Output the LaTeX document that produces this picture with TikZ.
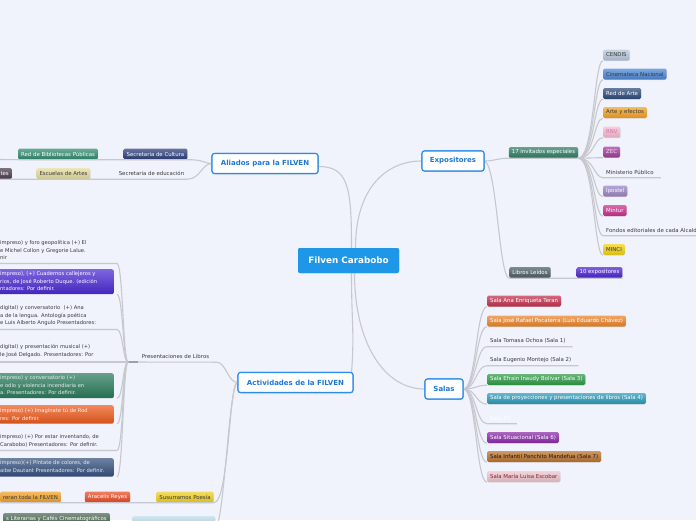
\documentclass[tikz,border=0pt]{standalone}
\usepackage{fontspec}
\setmainfont{DejaVu Sans}
\usetikzlibrary{shadows}
\definecolor{bg}{HTML}{F1F3FC}
\definecolor{linec}{HTML}{C6C8CE}
\definecolor{hubline}{HTML}{2C8CEA}
\definecolor{hubtext}{HTML}{1C78D8}
\definecolor{corec}{HTML}{1F97E8}
\definecolor{ink}{HTML}{3A3A3A}
\definecolor{cNavy}{HTML}{2C3E7C}
\definecolor{cGreenA}{HTML}{2E8A6E}
\definecolor{cKhaki}{HTML}{E4DC9C}
\definecolor{cPlum}{HTML}{4A3C4C}
\definecolor{cInv}{HTML}{2E7C62}
\definecolor{cCendis}{HTML}{B6C6DA}
\definecolor{cCine}{HTML}{4A86D6}
\definecolor{cRedArte}{HTML}{2C4A7A}
\definecolor{cOrange}{HTML}{F2A024}
\definecolor{cRnv}{HTML}{F4BACE}
\definecolor{cZec}{HTML}{A23C9C}
\definecolor{cIpostel}{HTML}{9A84C4}
\definecolor{cMintur}{HTML}{C8308A}
\definecolor{cMinci}{HTML}{F2D214}
\definecolor{cLibros}{HTML}{4C5C64}
\definecolor{cDiez}{HTML}{4A22D2}
\definecolor{cCrimson}{HTML}{C2304C}
\definecolor{cOrangeB}{HTML}{EA842A}
\definecolor{cGreenS}{HTML}{2E9A44}
\definecolor{cTeal}{HTML}{2A9AB8}
\definecolor{cPurple}{HTML}{8A2AA8}
\definecolor{cBrown}{HTML}{BA722E}
\definecolor{cRose}{HTML}{ECC4CC}
\definecolor{cViolet}{HTML}{4A2AD2}
\definecolor{cGreenP}{HTML}{2A7A5A}
\definecolor{cRedOr}{HTML}{EC5A1C}
\definecolor{cNavyP}{HTML}{34507E}
\definecolor{cRedB}{HTML}{EA4A22}
\definecolor{cYellow}{HTML}{F0D020}
\definecolor{cDkGreen}{HTML}{4A6A50}
\definecolor{cCyan}{HTML}{B8DCE8}
\tikzset{
  conn/.style={draw=linec, line width=1.1pt},
  core/.style={fill=corec, rounded corners=2pt, font=\fontsize{8.8}{10}\selectfont\bfseries, text=white, minimum width=101pt, minimum height=25pt, inner sep=0pt},
  hub/.style={draw=hubline, line width=1.1pt, fill=white, rounded corners=2.5pt, font=\fontsize{7}{8}\selectfont\bfseries, text=hubtext, minimum height=20pt, inner sep=0pt, drop shadow={opacity=0.15, shadow xshift=0.6pt, shadow yshift=-0.8pt}},
  grad/.style={top color=#1!72!white, bottom color=#1!90!black},
  chip/.style={grad=#1, rounded corners=1.5pt, font=\fontsize{5.4}{6}\selectfont, text=white, minimum height=11pt, inner xsep=3pt, inner ysep=0pt, drop shadow={opacity=0.15, shadow xshift=0.4pt, shadow yshift=-0.7pt}},
  lbl/.style={font=\fontsize{5.4}{6}\selectfont, text=ink, minimum height=11pt, inner xsep=3pt, inner ysep=0pt},
  pbox/.style={grad=#1, rounded corners=2pt, minimum width=130pt, anchor=north east, inner sep=0pt},
  ptext/.style={font=\fontsize{5.2}{7.5}\selectfont, align=left, anchor=north west, inner sep=0pt},
}
\begin{document}
\begin{tikzpicture}[x=1pt,y=-1pt]
\useasboundingbox (0,0) rectangle (696,520);
\clip (0,0) rectangle (696,520);
\fill[bg] (0,0) rectangle (696,520);

% hubs
\node[core] (fc) at (348.5,260.5) {Filven Carabobo};
\node[hub, minimum width=106pt] (al) at (265,163.5) {Aliados para la FILVEN};
\node[hub, minimum width=62pt] (ex) at (453,161) {Expositores};
\node[hub, minimum width=38pt] (sa) at (444,389) {Salas};
\node[hub, minimum width=115pt] (ac) at (295.5,382.5) {Actividades de la FILVEN};

% Aliados branch
\node[chip=cNavy] (sc) at (155.5,154) {Secretaria de Cultura};
\node[chip=cGreenA] (rb) at (58,154) {Red de Bibliotecas Públicas};
\coordinate (aA) at (0,159.5);
\node[lbl] (se) at (151.5,173.5) {Secretaria de educación};
\node[chip=cKhaki, text=ink] (ea) at (63.5,173.5) {Escuelas de Artes};
\node[chip=cPlum, anchor=east] (tt) at (12,173.5) {tes};

% Expositores branch
\node[chip=cInv] (inv) at (543.5,152.5) {17 invitados especiales};
\node[chip=cCendis, text=ink, anchor=west] (e1) at (603,55) {CENDIS};
\node[chip=cCine, text=ink, anchor=west] (e2) at (603,74) {Cinemateca Nacional};
\node[chip=cRedArte, anchor=west] (e3) at (603,93.5) {Red de Arte};
\node[chip=cOrange, text=ink, anchor=west] (e4) at (603,112.5) {Arte y efectos};
\node[chip=cRnv, text=cMintur!70!white, anchor=west] (e5) at (603,132) {RNV};
\node[chip=cZec, text=white!85!cZec, anchor=west] (e6) at (603,152) {ZEC};
\node[lbl, anchor=west] (e7) at (603,172) {Ministerio Público};
\node[chip=cIpostel, anchor=west] (e8) at (603,191) {Ipostel};
\node[chip=cMintur, anchor=west] (e9) at (603,210.5) {Mintur};
\node[lbl, anchor=west] (e10) at (603,230) {Fondos editoriales de cada Alcaldía};
\node[chip=cMinci, text=ink, anchor=west] (e11) at (603,249.5) {MINCI};
\node[chip=cLibros] (ll) at (530,272.5) {Libros Leídos};
\node[chip=cDiez] (te) at (599.5,272.5) {10 expositores};

% Salas branch
\node[chip=cCrimson, anchor=west] (s1) at (487,301) {Sala Ana Enriqueta Teran};
\node[chip=cOrangeB, anchor=west] (s2) at (487,321) {Sala José Rafael Pocaterra (Luis Eduardo Chávez)};
\node[lbl, anchor=west] (s3) at (487,341) {Sala Tomasa Ochoa (Sala 1)};
\node[lbl, anchor=west] (s4) at (487,360) {Sala Eugenio Montejo (Sala 2)};
\node[chip=cGreenS, anchor=west] (s5) at (487,379.5) {Sala Efrain Inaudy Bolivar (Sala 3)};
\node[chip=cTeal, anchor=west] (s6) at (487,398.5) {Sala de proyecciones y presentaciones de libros (Sala 4)};
\node[lbl, text=white, anchor=west] (s7) at (487,418) {Sala 5?};
\node[chip=cPurple, anchor=west] (s8) at (487,437.5) {Sala Situacional (Sala 6)};
\node[chip=cBrown, text=black!80!cBrown, anchor=west] (s9) at (487,456.5) {Sala Infantil Panchito Mandefua (Sala 7)};
\node[chip=cRose, text=cCrimson!70!black, anchor=west] (s10) at (487,476.5) {Sala María Luisa Escobar};

% Actividades branch
\node[lbl] (pl) at (175.5,356.5) {Presentaciones de Libros};
\coordinate (tp) at (128,362);
\coordinate (u1) at (117,263.5);
\node[ptext, text=ink] (p1) at (0,240.5) {impreso) y foro geopolítica (+) El\\e Michel Collon y Gregorie Lalue.\\nir};
\node[pbox=cViolet, minimum height=25pt] (p2) at (114,269) {};
\node[ptext, text=white] (p2t) at (0,271.5) {impreso), (+) Cuadernos callejeros y\\rios, de José Roberto Duque. (edición\\ntadores: Por definir.};
\coordinate (u3) at (117,329.5);
\node[ptext, text=ink] (p3) at (0,305.5) {digital) y conversatorio\ \ (+) Ana\\a de la lengua. Antología poética\\e Luis Alberto Angulo Presentadores:};
\coordinate (u4) at (117,362);
\node[ptext, text=ink] (p4) at (0,344.5) {digital) y presentación musical (+)\\le José Delgado. Presentadores: Por};
\node[pbox=cGreenP, minimum height=25pt] (p5) at (114,373) {};
\node[ptext, text=white!88!cGreenP] (p5t) at (0,375.5) {impreso) y conversatorio (+)\\e odio y violencia incendiaria en\\a. Presentadores: Por definir.};
\node[pbox=cRedOr, minimum height=18.5pt] (p6) at (114,405) {};
\node[ptext, text=white!92!cRedOr] (p6t) at (0,408.5) {impreso) (+) Imagínate tú de Rod\\res: Por definir.};
\coordinate (u7) at (117,450.5);
\node[ptext, text=ink] (p7) at (0,434.5) {impreso) (+) Por estar inventando, de\\Carabobo) Presentadores: Por definir.};
\node[pbox=cNavyP, minimum height=18.5pt] (p8) at (114,458) {};
\node[ptext, text=white!88!cNavyP] (p8t) at (0,460.5) {impreso)(+) Píntate de colores, de\\aibe Dautant Presentadores: Por definir.};

\node[chip=cOrange, text=ink, anchor=east] (b1) at (61,497) {reran toda la FILVEN};
\node[chip=cRedB] (b2) at (107.5,497) {Aracelis Reyes};
\node[chip=cYellow, text=ink] (b3) at (185,497) {Susurramos Poesía};
\node[chip=cDkGreen, anchor=east] (b4) at (110,518.5) {s Literarias y Cafés Cinematográficos};
\node[chip=cCyan, minimum width=83pt, anchor=north west] (b5) at (132,516) {};

% connectors from centre
\draw[conn] ([xshift=3pt]fc.north) .. controls +(0,-60) and +(30,0) .. ([yshift=-3pt]al.east);
\draw[conn] ([xshift=7pt]fc.north) .. controls +(0,-60) and +(-35,0) .. (ex.west);
\draw[conn] ([xshift=3pt]fc.south) .. controls +(0,50) and +(3,-40) .. ([xshift=-2pt]ac.north east);
\draw[conn] ([xshift=6pt]fc.south) .. controls +(0,70) and +(-40,0) .. (sa.west);

% Aliados connectors
\draw[conn] (al.west) .. controls (204,163.5) and (204,159.5) .. (sc.south east) -- (rb.south west) -- (aA);
\draw[conn] (al.west) .. controls (202,164) and (200,179) .. (se.south east) -- (ea.south west) -- (tt.south west);

% Expositores connectors
\draw[conn] (ex.east) .. controls (495,161) and (498,158) .. (inv.south west) -- (inv.south east);
\foreach \n in {e1,e2,e3,e4,e5,e6,e8,e9,e11}
  \draw[conn] (inv.south east) .. controls (594,158) and (594,0|-\n.south) .. (\n.south west);
\foreach \n in {e7,e10}
  \draw[conn] (inv.south east) .. controls (594,158) and (594,0|-\n.south) .. (\n.south west) -- ([xshift=4pt]\n.south east);
\draw[conn] (ex.east) .. controls (497,166) and (499,278) .. (ll.south west) -- (te.south east);

% Salas connectors
\foreach \n in {s1,s2,s5,s6,s8,s9,s10}
  \draw[conn] (sa.east) .. controls (476,389) and (476,0|-\n.south) .. (\n.south west);
\foreach \n in {s3,s4,s7}
  \draw[conn] (sa.east) .. controls (476,389) and (476,0|-\n.south) .. (\n.south west) -- ([xshift=4pt]\n.south east);

% Actividades connectors
\draw[conn] (ac.west) .. controls (228,382.5) and (226,362) .. ([xshift=4pt]pl.south east) -- (tp);
\draw[line width=1.6pt, draw=linec!80!black] (tp) -- ++(10,0);
\foreach \c in {u1,u3,u4,u7}
  \draw[conn] (tp) .. controls (123,362) and (123,0|-\c) .. (\c) -- ++(-120,0);
\foreach \n in {p2,p5,p6,p8}
  \draw[conn] (tp) .. controls (123,362) and (123,0|-\n.south) .. ([xshift=3pt]\n.south east);
\draw[conn] (ac.west) .. controls (229,382.5) and (229,502.5) .. (b3.south east) -- (b1.south west);
\draw[conn] (ac.west) .. controls (229,382.5) and (224,526.5) .. (b5.south east) -- (b4.south west);

% redraw nodes above connectors
\node[core] at (fc) {Filven Carabobo};
\node[hub, minimum width=106pt] at (al) {Aliados para la FILVEN};
\node[hub, minimum width=62pt] at (ex) {Expositores};
\node[hub, minimum width=38pt] at (sa) {Salas};
\node[hub, minimum width=115pt] at (ac) {Actividades de la FILVEN};
\end{tikzpicture}
\end{document}
